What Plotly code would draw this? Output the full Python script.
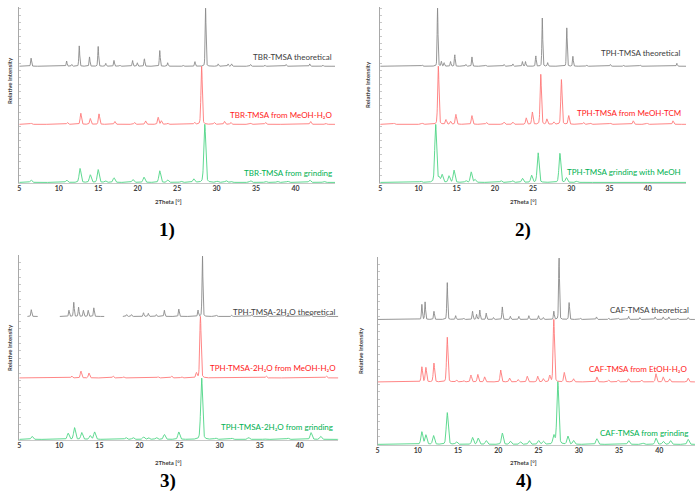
import numpy as np
import plotly.graph_objects as go

# ---------------- DATA (peak positions [°2θ] and relative heights) ----------------
# Panel 1: TBR-TMSA
p1_theo_pos = [6.5, 11.0, 11.65, 12.6, 13.9, 15.0, 15.95, 17.0, 17.75, 19.35, 19.95, 20.85, 22.8, 23.8, 25.75, 27.25, 28.6, 30.2, 31.45, 31.9, 34.3, 36.1, 38.8, 41.8, 43.45]
p1_theo_h   = [14, 9, 3, 35, 16, 34, 5, 10, 2, 10, 6, 13, 27, 6, 2, 8, 100, 4, 4, 4, 3, 2, 3, 4, 2]
p1_meoh_pos = [6.5, 11.1, 12.8, 14.0, 15.1, 17.1, 19.6, 21.0, 22.6, 23.0, 23.8, 27.2, 28.1, 29.7, 31.0, 31.8, 34.3, 36.2, 41.9, 43.8]
p1_meoh_h   = [2, 3, 19, 10, 18, 5, 3, 6, 12, 6, 2, 3, 100, 3, 5, 3, 2, 3, 5, 2]
p1_grind_pos = [6.5, 11.0, 12.7, 14.0, 15.0, 15.9, 17.0, 19.4, 20.8, 22.8, 23.8, 25.5, 27.1, 28.5, 30.1, 31.2, 31.8, 34.3, 36.2, 37.7, 39.0, 41.8, 43.6]
p1_grind_h   = [4, 4, 24, 13, 22, 3, 8, 5, 9, 20, 4, 2, 6, 100, 2, 3, 2, 3, 2, 2, 2, 4, 2]

# Panel 2: TPH-TMSA
p2_theo_pos = [10.5, 12.5, 13.0, 13.35, 14.2, 14.75, 16.2, 17.0, 18.8, 21.2, 22.35, 23.6, 24.0, 25.35, 26.2, 26.9, 29.4, 30.2, 32.0, 35.1, 36.8, 39.0, 43.8]
p2_theo_h   = [2, 100, 8, 6, 8, 20, 3, 16, 2, 3, 4, 8, 8, 18, 83, 6, 66, 17, 2, 3, 2, 2, 5]
p2_tcm_pos = [6.8, 10.5, 12.6, 13.6, 14.2, 14.9, 17.0, 18.9, 21.2, 22.35, 24.1, 24.9, 26.0, 26.8, 27.7, 28.7, 29.65, 31.6, 32.5, 35.1, 38.1, 39.9, 43.3]
p2_tcm_h   = [2, 2, 100, 8, 5, 17, 15, 3, 4, 4, 11, 21, 86, 9, 4, 77, 15, 3, 2, 2, 6, 2, 6]
p2_grind_pos = [10.3, 12.25, 12.7, 13.1, 14.0, 14.65, 16.2, 16.9, 17.4, 20.8, 22.3, 23.6, 24.8, 25.65, 28.5, 29.35, 30.7]
p2_grind_h   = [2, 100, 8, 13, 11, 21, 3, 18, 5, 3, 3, 7, 12, 51, 50, 8, 2]

# Panel 3: TPH-TMSA-2H2O
p3_theo_pos = [6.5, 11.2, 11.8, 12.4, 13.0, 13.6, 14.3, 18.4, 19.0, 20.5, 21.1, 22.1, 23.1, 24.9, 27.3, 27.85, 29.6, 31.5, 34.0, 36.0, 38.1, 41.4, 43.3]
p3_theo_h   = [11, 10, 23, 15, 10, 10, 14, 3, 3, 6, 5, 3, 10, 12, 10, 100, 2, 2, 3, 2, 2, 5, 2]
p3_theo_ranges = [(6.0, 7.3), (10.05, 15.6), (17.9, 44.8)]
p3_meoh_pos = [11.55, 12.7, 13.7, 16.7, 18.0, 22.3, 24.0, 25.25, 27.1, 27.6, 35.8, 43.3]
p3_meoh_h   = [3, 11, 8, 3, 2, 2, 3, 2, 8, 100, 3, 3]
p3_grind_pos = [6.6, 11.1, 11.9, 12.8, 13.85, 14.4, 18.3, 19.2, 20.5, 21.1, 22.1, 23.1, 24.9, 27.75, 29.5, 31.5, 33.6, 35.6, 38.5, 41.4, 42.6]
p3_grind_h   = [5, 10, 19, 11, 6, 12, 3, 3, 4, 3, 3, 8, 12, 100, 2, 2, 3, 1, 2, 11, 5]

# Panel 4: CAF-TMSA
p4_theo_pos = [10.5, 10.9, 12.0, 13.65, 14.7, 15.7, 16.8, 17.3, 17.7, 18.5, 19.4, 20.5, 21.5, 22.55, 23.8, 25.0, 25.6, 26.9, 27.55, 28.8, 30.2, 32.2, 33.7, 34.9, 36.2, 37.6, 39.5, 40.5, 41.2, 42.3, 43.6]
p4_theo_h   = [24, 28, 13, 60, 6, 2, 13, 8, 15, 10, 3, 20, 5, 5, 6, 6, 3, 13, 100, 27, 2, 4, 2, 2, 5, 3, 4, 4, 4, 2, 3]
p4_etoh_pos = [10.5, 11.0, 12.0, 13.65, 14.8, 15.7, 16.6, 17.45, 18.3, 20.3, 21.4, 22.45, 23.6, 24.9, 25.6, 26.4, 26.9, 28.2, 29.35, 32.25, 33.7, 34.9, 36.2, 37.8, 39.6, 40.5, 41.3, 43.6]
p4_etoh_h   = [24, 23, 30, 72, 3, 2, 11, 12, 8, 19, 6, 4, 9, 9, 5, 10, 100, 15, 5, 8, 3, 3, 5, 3, 13, 8, 5, 6]
p4_grind_pos = [10.5, 11.0, 11.95, 13.65, 14.8, 16.8, 17.5, 18.5, 20.5, 21.5, 22.75, 23.85, 25.0, 25.6, 26.9, 27.4, 28.65, 29.35, 32.25, 36.2, 38.0, 39.6, 40.5, 41.4, 43.6]
p4_grind_h   = [20, 15, 14, 51, 4, 11, 10, 6, 18, 5, 4, 6, 6, 5, 14, 100, 13, 6, 9, 6, 2, 10, 5, 6, 8]

series_offsets = [200, 100, 0]  # theoretical, solution, grinding

labels = [
    ["TBR-TMSA theoretical", "TBR-TMSA from MeOH-H₂O", "TBR-TMSA from grinding"],
    ["TPH-TMSA theoretical", "TPH-TMSA from MeOH-TCM", "TPH-TMSA grinding with MeOH"],
    ["TPH-TMSA-2H₂O theoretical", "TPH-TMSA-2H₂O from MeOH-H₂O", "TPH-TMSA-2H₂O from grinding"],
    ["CAF-TMSA theoretical", "CAF-TMSA from EtOH-H₂O", "CAF-TMSA from grinding"],
]
panel_names = ["1)", "2)", "3)", "4)"]
tick_vals = [5, 10, 15, 20, 25, 30, 35, 40]

# ---------------- layout geometry (pixels) ----------------
W, H = 700, 498
panels = [
    dict(x0=17.3, x1=334.0, ytop=7.0, ybot=183.0, xr=[5, 45], yr=[-1, 302]),
    dict(x0=379.3, x1=686.0, ytop=7.0, ybot=183.0, xr=[5, 45], yr=[-1, 302]),
    dict(x0=17.3, x1=337.3, ytop=255.0, ybot=440.0, xr=[5, 44.8], yr=[-1, 300]),
    dict(x0=376.7, x1=695.0, ytop=257.0, ybot=445.0, xr=[5, 44.45], yr=[-1, 300]),
]
data = [
    [(p1_theo_pos, p1_theo_h), (p1_meoh_pos, p1_meoh_h), (p1_grind_pos, p1_grind_h)],
    [(p2_theo_pos, p2_theo_h), (p2_tcm_pos, p2_tcm_h), (p2_grind_pos, p2_grind_h)],
    [(p3_theo_pos, p3_theo_h), (p3_meoh_pos, p3_meoh_h), (p3_grind_pos, p3_grind_h)],
    [(p4_theo_pos, p4_theo_h), (p4_etoh_pos, p4_etoh_h), (p4_grind_pos, p4_grind_h)],
]
widths = [0.13, 0.2, 0.28]
line_colors = ["#8a8a8a", "#ff7878", "#4dd584"]
text_colors = ["#404040", "#ff1a1a", "#00b050"]


def profile(x, pos, hts, fwhm):
    y = np.zeros_like(x)
    s = fwhm / 2.3548
    g = fwhm / 2
    for p, h in zip(pos, hts):
        gauss = np.exp(-0.5 * ((x - p) / s) ** 2)
        lor = 1.0 / (1.0 + ((x - p) / g) ** 2)
        y += h * (0.75 * gauss + 0.25 * lor)
    return y


fig = go.Figure()
label_px = [
    [(333, 57), (333, 115), (333, 173)],
    [(682, 53), (683, 113), (683, 172)],
    [(337, 312), (337, 368), (334, 427)],
    [(691, 310), (690, 369), (690, 433)],
]
ytitle_px = [(7, 80), (366, 84), (7, 347), (359, 350)]
xtitle_px = [(167, 202), (523, 202), (167, 462), (523, 462)]
num_px = [(165, 230), (522, 230), (166, 481), (523, 481)]

annotations = []
for i, pan in enumerate(panels):
    k = "" if i == 0 else str(i + 1)
    xa, ya = "x" + k, "y" + k
    x = np.arange(pan["xr"][0], pan["xr"][1] + 1e-9, 0.02)
    for j in range(3):
        pos, hts = data[i][j]
        y = profile(x, pos, hts, widths[j]) + series_offsets[j]
        if i == 2 and j == 0:
            mask = np.zeros_like(x, dtype=bool)
            for a, b in p3_theo_ranges:
                mask |= (x >= a) & (x <= b)
            y = np.where(mask, y, np.nan)
        fig.add_trace(go.Scatter(x=x, y=y, mode="lines", xaxis=xa, yaxis=ya,
                                 line=dict(color=line_colors[j], width=0.9),
                                 connectgaps=False, showlegend=False, hoverinfo="skip"))
    dom_x = [pan["x0"] / W, pan["x1"] / W]
    dom_y = [1 - pan["ybot"] / H, 1 - pan["ytop"] / H]
    fig.layout["xaxis" + k] = dict(domain=dom_x, range=pan["xr"], anchor=ya,
                                   tickvals=tick_vals, showgrid=False, zeroline=False,
                                   showline=True, linecolor="#c8c8c8", linewidth=1,
                                   ticks="", ticklabelstandoff=-1,
                                   tickfont=dict(family="Lato", size=7, color="#404040", weight="bold"))
    fig.layout["yaxis" + k] = dict(domain=dom_y, range=pan["yr"], anchor=xa,
                                   showgrid=False, zeroline=False, showticklabels=False,
                                   showline=True, linecolor="#a8a8a8", linewidth=1,
                                   ticks="inside", ticklen=2, tickcolor="#c8c8c8", dtick=12)
    for j in range(3):
        px, py = label_px[i][j]
        annotations.append(dict(text=labels[i][j], x=px / W, y=1 - py / H, xref="paper", yref="paper",
                                xanchor="right", yanchor="middle", showarrow=False,
                                font=dict(family="Lato", size=8, color=text_colors[j])))
    annotations.append(dict(text="Relative intensity", x=ytitle_px[i][0] / W, y=1 - ytitle_px[i][1] / H,
                            xref="paper", yref="paper", textangle=-90, showarrow=False,
                            xanchor="center", yanchor="middle",
                            font=dict(family="Lato", size=6, color="#404040", weight="bold")))
    annotations.append(dict(text="2Theta [°]", x=xtitle_px[i][0] / W, y=1 - xtitle_px[i][1] / H,
                            xref="paper", yref="paper", showarrow=False,
                            xanchor="center", yanchor="middle",
                            font=dict(family="Lato", size=6, color="#404040", weight="bold")))
    annotations.append(dict(text=panel_names[i], x=num_px[i][0] / W, y=1 - num_px[i][1] / H,
                            xref="paper", yref="paper", showarrow=False,
                            xanchor="center", yanchor="middle",
                            font=dict(family="Liberation Serif", size=19, color="#000000", weight="bold")))

fig.update_layout(width=W, height=H, margin=dict(l=0, r=0, t=0, b=0),
                  paper_bgcolor="white", plot_bgcolor="white",
                  annotations=annotations, showlegend=False)
fig.write_html("out.html", config={"displayModeBar": False},
               post_script="document.body.style.margin='0';document.body.style.padding='0';")
